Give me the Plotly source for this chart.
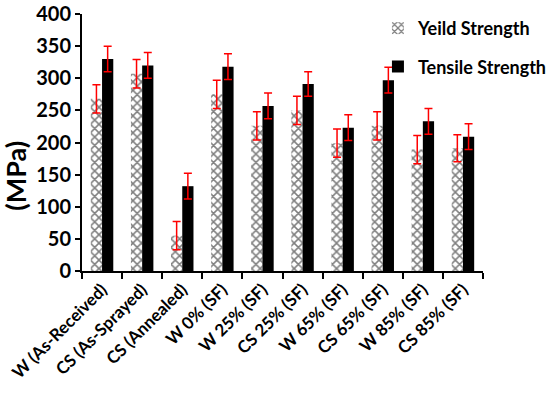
import plotly.graph_objects as go

categories = ["W (As-Received)", "CS (As-Sprayed)", "CS (Annealed)", "W 0% (SF)",
              "W 25% (SF)", "CS 25% (SF)", "W 65% (SF)", "CS 65% (SF)",
              "W 85% (SF)", "CS 85% (SF)"]
yield_strength = [268, 307, 55, 275, 226, 250, 199, 226, 189, 191]
yield_err = [22, 22, 22, 22, 22, 22, 22, 22, 22, 21]
tensile_strength = [330, 320, 132, 318, 257, 291, 223, 297, 233, 209]
tensile_err = [20, 20, 20, 20, 20, 19, 20, 20, 20, 20]
y_ticks = [0, 50, 100, 150, 200, 250, 300, 350, 400]

FONT = "Lato"

fig = go.Figure()
fig.add_trace(go.Bar(
    x=categories, y=yield_strength, name="Yeild Strength", legendgroup="a",
    marker=dict(color="white", line=dict(width=0),
                pattern=dict(shape="x", fgcolor="black", bgcolor="white", size=6, solidity=0.45)),
    error_y=dict(type="data", array=yield_err, color="red", thickness=1.5, width=4),
))
fig.add_trace(go.Bar(
    x=categories, y=tensile_strength, name="Tensile Strength", legendgroup="b",
    marker=dict(color="black", line=dict(width=0)),
    error_y=dict(type="data", array=tensile_err, color="red", thickness=1.5, width=4),
))

fig.update_layout(
    width=550, height=395,
    margin=dict(l=82, r=67, t=14, b=124, autoexpand=False),
    paper_bgcolor="white", plot_bgcolor="white",
    barmode="group", bargap=0.44, bargroupgap=0,
    font=dict(family=FONT, color="black"),
    showlegend=True,
    legend=dict(x=0.738, y=1.016, xanchor="left", yanchor="top",
                font=dict(family=FONT, size=18, color="black", weight="bold"),
                bgcolor="rgba(0,0,0,0)", tracegroupgap=12, itemwidth=30),
    xaxis=dict(showline=True, linecolor="black", linewidth=2, automargin=False,
               ticks="outside", tickson="boundaries", ticklen=6, tickwidth=1.5, tickcolor="black",
               tickangle=-45, tickfont=dict(family=FONT, size=17, color="black", weight="bold"),
               showgrid=False),
    yaxis=dict(range=[0, 400], tickvals=y_ticks, showline=True, linecolor="black", linewidth=2,
               automargin=False,
               ticks="outside", ticklen=5, tickwidth=1.5, tickcolor="black",
               tickfont=dict(family=FONT, size=20, color="black", weight="bold"),
               showgrid=False, zeroline=False),
    annotations=[dict(text="(MPa)", xref="paper", yref="paper", x=-0.165, y=0.37,
                      xanchor="center", yanchor="middle", textangle=-90, showarrow=False,
                      font=dict(family=FONT, size=27, color="black", weight="bold"))],
)

fig.write_html("out.html", config={"displayModeBar": False},
               post_script="document.body.style.margin='0';")
